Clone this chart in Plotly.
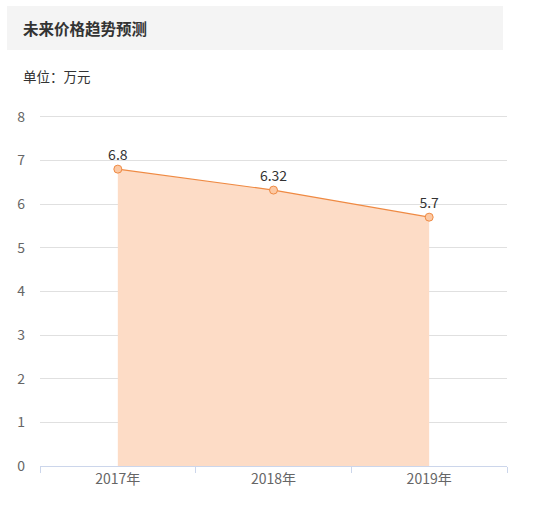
import plotly.graph_objects as go

# 数据
years = ['2017年', '2018年', '2019年']
prices = [6.8, 6.32, 5.7]
labels = ['6.8', '6.32', '5.7']

W, H = 537, 506
L, R, T, B = 40, 507, 115, 466  # plot area in pixels


def px_x(p):
    return (p - L) / (R - L)


def px_y(p):
    return (B - p) / (B - T)


fig = go.Figure()
fig.add_trace(go.Scatter(
    x=years, y=prices,
    mode='lines+markers+text',
    text=labels,
    textposition='top center',
    textfont=dict(size=14, color='#333333'),
    line=dict(color='#ef8a43', width=1.2),
    marker=dict(size=8, color='#fcc9a4', line=dict(color='#ef8a43', width=1)),
    fill='tozeroy',
    fillcolor='#fddcc6',
    cliponaxis=False,
    hoverinfo='skip',
))

font = 'Noto Sans CJK SC, Microsoft YaHei, sans-serif'

fig.update_layout(
    width=W, height=H,
    margin=dict(l=L, r=W - R, t=T, b=H - B),
    paper_bgcolor='white', plot_bgcolor='white',
    showlegend=False,
    font=dict(family=font, size=14, color='#666666'),
    xaxis=dict(
        type='category', range=[-0.5, 2.5],
        showgrid=False, showline=True, linecolor='#ccd6eb', linewidth=1,
        ticks='outside', tickson='boundaries', ticklen=6, tickcolor='#ccd6eb',
        tickfont=dict(size=14, color='#666666'),
        fixedrange=True,
    ),
    yaxis=dict(
        range=[0, 8.04], tickvals=[0, 1, 2, 3, 4, 5, 6, 7, 8],
        showgrid=True, gridcolor='#e0e0e0',
        zeroline=False, showline=False, ticks='', ticklabelstandoff=14,
        tickfont=dict(size=14, color='#666666'),
        fixedrange=True,
    ),
    shapes=[dict(
        type='rect', xref='paper', yref='paper',
        x0=px_x(7), x1=px_x(503), y0=px_y(50), y1=px_y(6),
        fillcolor='#f4f4f4', line=dict(width=0), layer='below',
    )],
    annotations=[
        dict(text='<b>未来价格趋势预测</b>', xref='paper', yref='paper',
             x=px_x(21), y=px_y(28), xanchor='left', yanchor='middle',
             showarrow=False, font=dict(size=15.5, color='#333333')),
        dict(text='单位：万元', xref='paper', yref='paper',
             x=px_x(21), y=px_y(76), xanchor='left', yanchor='middle',
             showarrow=False, font=dict(size=13.5, color='#333333')),
    ],
)

fig.write_html('out.html', config={'displayModeBar': False},
               post_script="document.body.style.margin='0';")
